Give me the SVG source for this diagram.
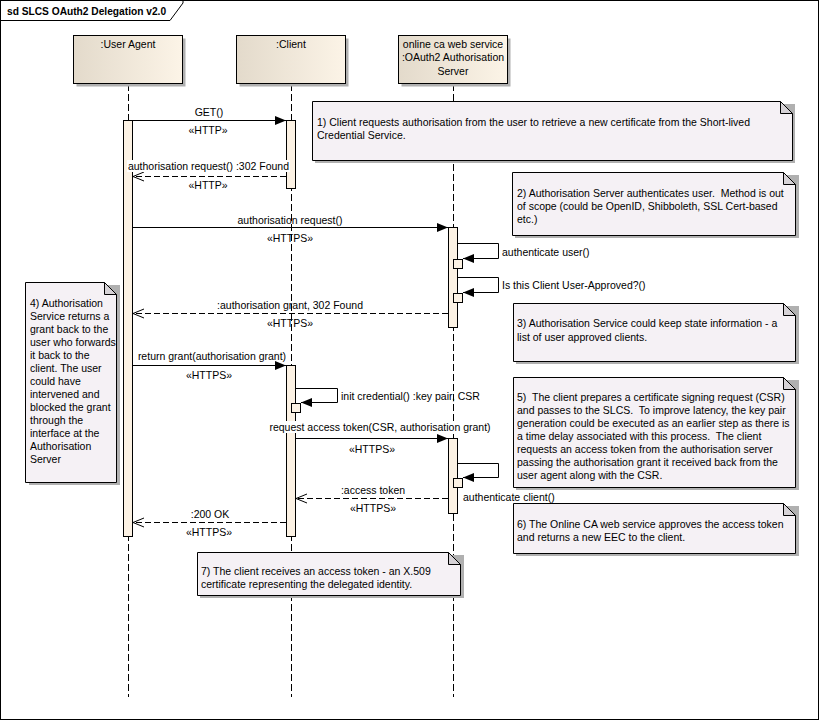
<svg xmlns="http://www.w3.org/2000/svg" width="820" height="721" viewBox="0 0 820 721">
<defs>
<linearGradient id="lg" x1="0" y1="0" x2="1" y2="0">
<stop offset="0" stop-color="#e3dacb"/>
<stop offset="1" stop-color="#fcf4e7"/>
</linearGradient>
<marker id="fa" markerUnits="userSpaceOnUse" markerWidth="12" markerHeight="10" refX="11" refY="5" orient="auto">
<path d="M0,0.5 L11,5 L0,9.5 Z" fill="#000"/>
</marker>
<marker id="oa" markerUnits="userSpaceOnUse" markerWidth="13" markerHeight="12" refX="12" refY="6" orient="auto">
<path d="M1,1.5 L12,6 L1,10.5" fill="none" stroke="#000" stroke-width="1"/>
</marker>
</defs>
<style>
text{font-family:"Liberation Sans",Arial,sans-serif;font-size:10.5px;fill:#000;white-space:pre}
.t{font-weight:bold;font-size:10.2px}
.m{text-anchor:middle}
.box{fill:url(#lg);stroke:#000;stroke-width:1}
.sh{fill:#b0b0b0}
.ll{stroke:#000;stroke-width:1;stroke-dasharray:7 3;fill:none}
.bar{fill:#fcf2e4;stroke:#000;stroke-width:1}
.note{fill:#f5f1f5;stroke:#000;stroke-width:1}
.fold{fill:#d6d2d6;stroke:#000;stroke-width:1;stroke-linejoin:round}
.msg{stroke:#000;stroke-width:1;fill:none}
.sync{marker-end:url(#fa)}
.ret{stroke-dasharray:6 3;marker-end:url(#oa)}
.bg{fill:#fff}
</style>
<rect x="0" y="0" width="820" height="721" fill="#fff"/>
<g id="frame">
<rect x="0.5" y="0.5" width="818" height="719" fill="none" stroke="#000"/>
<path d="M0.5,20.5 H170 L183,3 V0.5" fill="none" stroke="#000"/>
<text class="t" x="7" y="15">sd SLCS OAuth2 Delegation v2.0</text>
</g>
<g id="lifelines">
<line class="ll" x1="128.5" y1="84" x2="128.5" y2="697"/>
<line class="ll" x1="291.5" y1="84" x2="291.5" y2="697"/>
<line class="ll" x1="453.5" y1="84" x2="453.5" y2="697"/>
</g>
<g id="userAgent">
<rect class="sh" x="76.5" y="38.5" width="109" height="48"/>
<rect class="box" x="73.5" y="35.5" width="109" height="48"/>
<text class="m" x="128" y="48">:User Agent</text>
</g>
<g id="client">
<rect class="sh" x="239.5" y="38.5" width="109" height="48"/>
<rect class="box" x="236.5" y="35.5" width="109" height="48"/>
<text class="m" x="291" y="48">:Client</text>
</g>
<g id="authServer">
<rect class="sh" x="401.5" y="38.5" width="109" height="48"/>
<rect class="box" x="398.5" y="35.5" width="109" height="48"/>
<text class="m" x="453" y="48">online ca web service</text>
<text class="m" x="453" y="61">:OAuth2 Authorisation</text>
<text class="m" x="453" y="75">Server</text>
</g>
<g id="activations">
<rect class="bar" x="123.5" y="120.5" width="9" height="416"/>
<rect class="bar" x="286.5" y="120.5" width="9" height="68"/>
<rect class="bar" x="448.5" y="227.5" width="9" height="100"/>
<rect class="bar" x="453.5" y="259.5" width="9" height="9"/>
<rect class="bar" x="453.5" y="293.5" width="9" height="9"/>
<rect class="bar" x="286.5" y="365.5" width="9" height="171"/>
<rect class="bar" x="291.5" y="403.5" width="9" height="9"/>
<rect class="bar" x="448.5" y="438.5" width="9" height="75"/>
<rect class="bar" x="453.5" y="478.5" width="9" height="9"/>
</g>
<g id="note1">
<polygon class="sh" points="315,104 795,104 795,163 315,163"/>
<polygon class="note" points="312.5,101.5 780.5,101.5 792.5,113.5 792.5,160.5 312.5,160.5"/>
<polygon class="fold" points="780.5,101.5 780.5,113.5 792.5,113.5"/>
<text x="317" y="126">1) Client requests authorisation from the user to retrieve a new certificate from the Short-lived</text>
<text x="317" y="139">Credential Service.</text>
</g>
<g id="note2">
<polygon class="sh" points="515,175 799,175 799,238 515,238"/>
<polygon class="note" points="512.5,172.5 783.5,172.5 795.5,184.5 795.5,235.5 512.5,235.5"/>
<polygon class="fold" points="783.5,172.5 783.5,184.5 795.5,184.5"/>
<text x="517" y="197">2) Authorisation Server authenticates user.  Method is out</text>
<text x="517" y="210">of scope (could be OpenID, Shibboleth, SSL Cert-based</text>
<text x="517" y="223">etc.)</text>
</g>
<g id="note3">
<polygon class="sh" points="516,306 799,306 799,364 516,364"/>
<polygon class="note" points="513.5,303.5 783.5,303.5 795.5,315.5 795.5,361.5 513.5,361.5"/>
<polygon class="fold" points="783.5,303.5 783.5,315.5 795.5,315.5"/>
<text x="517" y="327">3) Authorisation Service could keep state information - a</text>
<text x="517" y="341">list of user approved clients.</text>
</g>
<g id="note4">
<polygon class="sh" points="29,285 120,285 120,485 29,485"/>
<polygon class="note" points="25.5,282.5 104.5,282.5 116.5,294.5 116.5,482.5 25.5,482.5"/>
<polygon class="fold" points="104.5,282.5 104.5,294.5 116.5,294.5"/>
<text x="30" y="306.5">4) Authorisation</text>
<text x="30" y="319.5">Service returns a</text>
<text x="30" y="332.5">grant back to the</text>
<text x="30" y="345.5">user who forwards</text>
<text x="30" y="358.5">it back to the</text>
<text x="30" y="371.5">client. The user</text>
<text x="30" y="384.5">could have</text>
<text x="30" y="397.5">intervened and</text>
<text x="30" y="410.5">blocked the grant</text>
<text x="30" y="423.5">through the</text>
<text x="30" y="436.5">interface at the</text>
<text x="30" y="449.5">Authorisation</text>
<text x="30" y="462.5">Server</text>
</g>
<g id="note5">
<polygon class="sh" points="516,380 799,380 799,490 516,490"/>
<polygon class="note" points="513.5,377.5 783.5,377.5 795.5,389.5 795.5,487.5 513.5,487.5"/>
<polygon class="fold" points="783.5,377.5 783.5,389.5 795.5,389.5"/>
<text x="517" y="401">5)  The client prepares a certificate signing request (CSR)</text>
<text x="517" y="414">and passes to the SLCS.  To improve latency, the key pair</text>
<text x="517" y="427">generation could be executed as an earlier step as there is</text>
<text x="517" y="440">a time delay associated with this process.  The client</text>
<text x="517" y="453">requests an access token from the authorisation server</text>
<text x="517" y="466">passing the authorisation grant it received back from the</text>
<text x="517" y="479">user agent along with the CSR.</text>
</g>
<g id="note6">
<polygon class="sh" points="516,506 799,506 799,556 516,556"/>
<polygon class="note" points="513.5,503.5 783.5,503.5 795.5,515.5 795.5,553.5 513.5,553.5"/>
<polygon class="fold" points="783.5,503.5 783.5,515.5 795.5,515.5"/>
<text x="517" y="528">6) The Online CA web service approves the access token</text>
<text x="517" y="541">and returns a new EEC to the client.</text>
</g>
<g id="note7">
<polygon class="sh" points="200,555 464,555 464,598 200,598"/>
<polygon class="note" points="197.5,552.5 448.5,552.5 460.5,564.5 460.5,595.5 197.5,595.5"/>
<polygon class="fold" points="448.5,552.5 448.5,564.5 460.5,564.5"/>
<text x="201" y="575">7) The client receives an access token - an X.509</text>
<text x="201" y="588">certificate representing the delegated identity.</text>
</g>
<g id="connectors">
<line class="msg sync" x1="133" y1="120.5" x2="286" y2="120.5"/>
<text class="m" x="209" y="116">GET()</text>
<text class="m" x="208" y="134">«HTTP»</text>

<line class="msg ret" x1="286" y1="176.5" x2="133" y2="176.5"/>
<rect class="bg" x="127" y="160" width="163" height="12"/>
<text class="m" x="208.5" y="170">authorisation request() :302 Found</text>
<text class="m" x="208" y="189">«HTTP»</text>

<line class="msg sync" x1="133" y1="227.5" x2="448" y2="227.5"/>
<text class="m" x="290" y="224">authorisation request()</text>
<text class="m" x="290" y="242">«HTTPS»</text>

<polyline class="msg sync" points="458,243.5 498.5,243.5 498.5,258.5 463,258.5"/>
<text x="502" y="256">authenticate user()</text>

<polyline class="msg sync" points="458,277.5 498.5,277.5 498.5,292.5 463,292.5"/>
<text x="502" y="289">Is this Client User-Approved?()</text>

<line class="msg ret" x1="448" y1="313.5" x2="133" y2="313.5"/>
<text class="m" x="290" y="309">:authorisation grant, 302 Found</text>
<text class="m" x="290" y="327">«HTTPS»</text>

<line class="msg sync" x1="133" y1="365.5" x2="286" y2="365.5"/>
<text class="m" x="212" y="360">return grant(authorisation grant)</text>
<text class="m" x="209" y="379">«HTTPS»</text>

<polyline class="msg sync" points="296,388.5 337.5,388.5 337.5,402.5 301,402.5"/>
<text x="341" y="400">init credential() :key pair, CSR</text>

<rect class="bg" x="271" y="421" width="218" height="12"/>
<text class="m" x="380" y="431">request access token(CSR, authorisation grant)</text>
<line class="msg sync" x1="296" y1="438.5" x2="448" y2="438.5"/>
<text class="m" x="372" y="453">«HTTPS»</text>

<polyline class="msg sync" points="458,463.5 498.5,463.5 498.5,477.5 463,477.5"/>
<text x="463" y="501">authenticate client()</text>

<line class="msg ret" x1="448" y1="498.5" x2="296" y2="498.5"/>
<text class="m" x="373" y="494">:access token</text>
<text class="m" x="373" y="512">«HTTPS»</text>

<line class="msg ret" x1="286" y1="522.5" x2="133" y2="522.5"/>
<text class="m" x="210" y="518">:200 OK</text>
<text class="m" x="209" y="536">«HTTPS»</text>
</g>
</svg>
